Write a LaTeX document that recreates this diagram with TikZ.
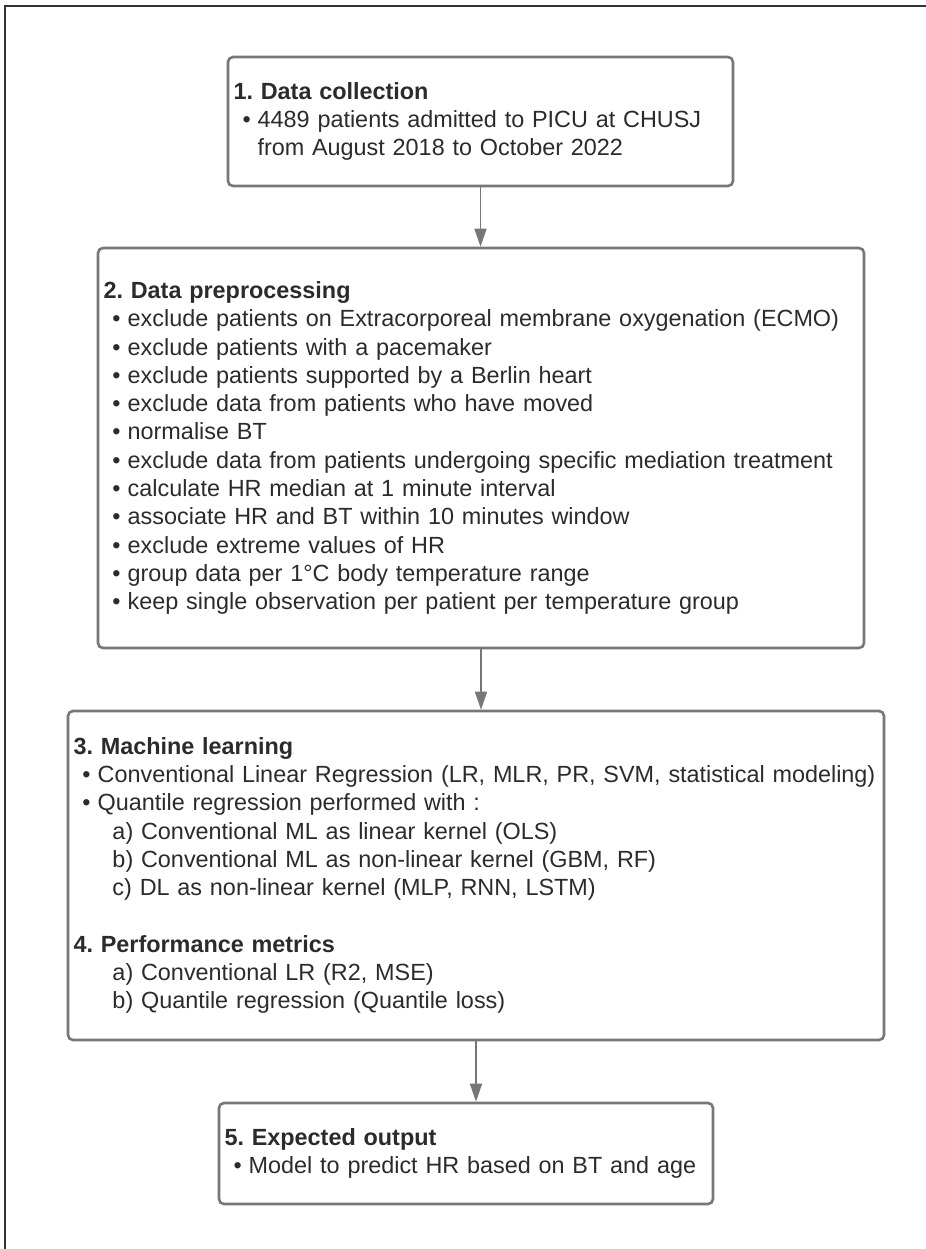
\documentclass[tikz,border=0pt]{standalone}
\usepackage{fontspec}
\setmainfont{Liberation Sans}
\usetikzlibrary{arrows.meta}
\definecolor{boxgray}{HTML}{777777}
\definecolor{txtgray}{HTML}{2B2B2B}
\frenchspacing
\newcommand{\itm}[1]{\mbox{\hspace*{4.5pt}\textbullet\hspace*{3.5pt}#1}}
\newcommand{\cont}[1]{\mbox{\hspace*{12pt}#1}}
\newcommand{\subitm}[1]{\mbox{\hspace*{19.5pt}#1}}

\begin{document}
\begin{tikzpicture}[x=0.5pt,y=-0.5pt,
    stage/.style={draw=boxgray,line width=1.3pt,rounded corners=2.5pt,align=left,
      inner xsep=2.75pt,inner ysep=0pt,text=txtgray,
      font=\fontsize{11.7}{14.15}\selectfont},
    flow/.style={draw=boxgray,line width=0.85pt,-{Triangle[length=9pt,width=6pt]}}]
        \useasboundingbox (0,0) rectangle (926,1249);
        \draw[line width=0.75pt,black!80] (5,1249) -- (5,6) -- (926,6);

        \node[stage,minimum width=252.5pt,text width=247pt,minimum height=64.5pt] (collect) at (480.5,121.5)
            {\textbf{1. Data collection}\\
             \itm{4489 patients admitted to PICU at CHUSJ}\\
             \cont{from August 2018 to October 2022}};

        \node[stage,minimum width=383pt,text width=377.5pt,minimum height=200pt] (prep) at (481,448)
            {\textbf{2. Data preprocessing}\\
             \itm{exclude patients on Extracorporeal membrane oxygenation (ECMO)}\\
             \itm{exclude patients with a pacemaker}\\
             \itm{exclude patients supported by a Berlin heart}\\
             \itm{exclude data from patients who have moved}\\
             \itm{normalise BT}\\
             \itm{exclude data from patients undergoing specific mediation treatment}\\
             \itm{calculate HR median at 1 minute interval}\\
             \itm{associate HR and BT within 10 minutes window}\\
             \itm{exclude extreme values of HR}\\
             \itm{group data per 1°C body temperature range}\\
             \itm{keep single observation per patient per temperature group}};

        \node[stage,minimum width=408pt,text width=402.5pt,minimum height=164.5pt] (learn) at (476,875.5)
            {\textbf{3. Machine learning}\\
             \itm{Conventional Linear Regression (LR, MLR, PR, SVM, statistical modeling)}\\
             \itm{Quantile regression performed with :}\\
             \subitm{a) Conventional ML as linear kernel (OLS)}\\
             \subitm{b) Conventional ML as non-linear kernel (GBM, RF)}\\
             \subitm{c) DL as non-linear kernel (MLP, RNN, LSTM)}\\[14.15pt]
             \textbf{4. Performance metrics}\\
             \subitm{a) Conventional LR (R2, MSE)}\\
             \subitm{b) Quantile regression (Quantile loss)}};

        \node[stage,minimum width=247pt,text width=241.5pt,minimum height=50.5pt] (output) at (466,1153.5)
            {\textbf{5. Expected output}\\
             \itm{Model to predict HR based on BT and age}};

        \draw[flow] (collect.south) -- (collect.south |- prep.north);
        \draw[flow] (prep.south) -- (prep.south |- learn.north);
        \draw[flow] (learn.south) -- (learn.south |- output.north);
    \end{tikzpicture}
\end{document}
